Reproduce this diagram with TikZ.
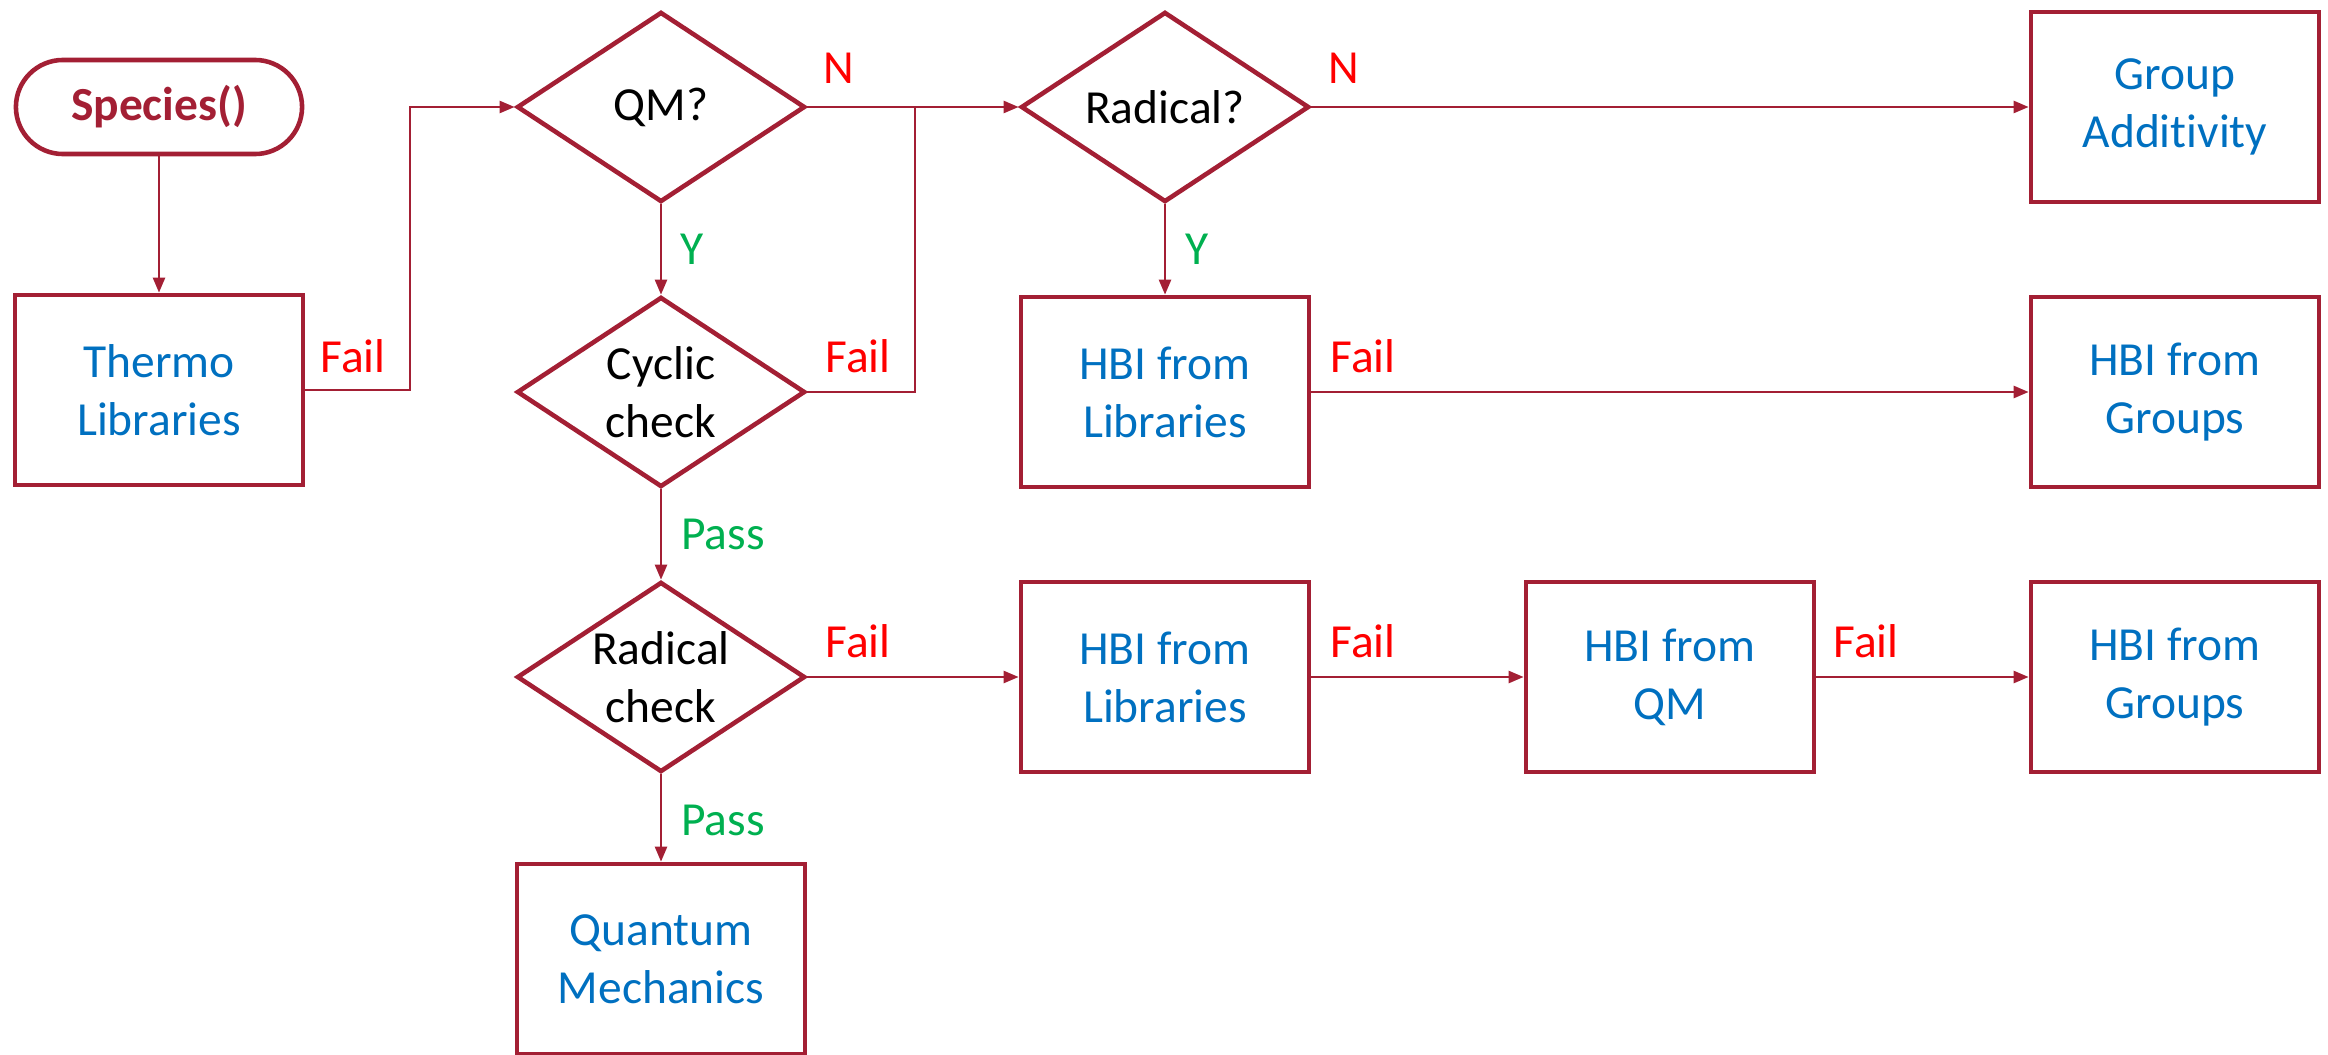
\documentclass[tikz,border=0pt]{standalone}
\usepackage{fontspec}
\setmainfont{Carlito}[Ligatures=NoCommon]
\usepackage{xcolor}
\usetikzlibrary{shapes.geometric,arrows.meta}

\definecolor{frame}{HTML}{A31F34}
\definecolor{txtblue}{HTML}{0070C0}
\definecolor{failred}{HTML}{FF0000}
\definecolor{passgreen}{HTML}{00B050}

\tikzset{
  proc/.style={draw=frame, line width=1.3pt, minimum width=2.88cm, minimum height=1.9cm,
    text=txtblue, align=center, font=\fontsize{13.5}{16.5}\selectfont},
  decide/.style={diamond, draw=frame, line width=1.3pt, minimum width=2.88cm, minimum height=1.9cm,
    inner sep=0pt, aspect=1.5, align=center, font=\fontsize{13.5}{16.5}\selectfont},
  term/.style={draw=frame, line width=1.3pt, rounded corners=0.47cm, minimum width=2.86cm,
    minimum height=0.94cm, text=frame, font=\fontsize{13.5}{16}\selectfont\bfseries},
  link/.style={draw=frame, line width=0.7pt, -{Triangle[length=0.15cm,width=0.12cm]}},
  fail/.style={text=failred, font=\fontsize{13.5}{16}\selectfont},
  pass/.style={text=passgreen, font=\fontsize{13.5}{16}\selectfont}
}

\begin{document}
\begin{tikzpicture}[x=0.01cm, y=-0.01cm]
  \useasboundingbox (0,0) rectangle (2328,1055);
  % left column
  \node[term] (species) at (159,107) {Species()};
  \node[proc] (thermo) at (159,390) {Thermo\\Libraries};
  % decisions
  \node[decide] (qm) at (661,107) {QM?};
  \node[decide] (cyclic) at (661,392) {Cyclic\\check};
  \node[decide] (radcheck) at (661,677) {Radical\\check};
  \node[proc] (quantum) at (661,959) {Quantum\\Mechanics};
  \node[decide] (radical) at (1165,107) {Radical?};
  % outcomes
  \node[proc] (hbilibA) at (1165,392) {HBI from\\Libraries};
  \node[proc] (gav) at (2175,107) {Group\\Additivity};
  \node[proc] (hbigrpA) at (2175,392) {HBI from\\Groups};
  \node[proc] (hbilibB) at (1165,677) {HBI from\\Libraries};
  \node[proc] (hbiqm) at (1670,677) {HBI from\\QM};
  \node[proc] (hbigrpB) at (2175,677) {HBI from\\Groups};

  \coordinate (joinA) at (410,390);
  \coordinate (joinB) at (915,392);
  \coordinate (joinC) at (915,107);

  \draw[link] (species) -- (thermo);
  \draw[link] (thermo.east) -- (joinA) |- (qm.west);
  \draw[link] (qm.east) -- (radical.west);
  \draw[frame, line width=0.7pt] (cyclic.east) -- (joinB) -- (joinC);
  \draw[link] (qm.south) -- (cyclic.north);
  \draw[link] (cyclic.south) -- (radcheck.north);
  \draw[link] (radcheck.south) -- (quantum.north);
  \draw[link] (radical.east) -- (gav.west);
  \draw[link] (radical.south) -- (hbilibA.north);
  \draw[link] (hbilibA.east) -- (hbigrpA.west);
  \draw[link] (radcheck.east) -- (hbilibB.west);
  \draw[link] (hbilibB.east) -- (hbiqm.west);
  \draw[link] (hbiqm.east) -- (hbigrpB.west);

  % branch labels
  \node[fail] (f1) at (353,356) {Fail};
  \node[fail] (n1) at (839,68) {N};
  \node[fail] (f2) at (858,356) {Fail};
  \node[pass] (y1) at (692,249) {Y};
  \node[pass] (p1) at (723,534) {Pass};
  \node[pass] (p2) at (723,820) {Pass};
  \node[fail] (n2) at (1344,68) {N};
  \node[pass] (y2) at (1197,249) {Y};
  \node[fail] (f3) at (1363,356) {Fail};
  \node[fail] (f4) at (858,641) {Fail};
  \node[fail] (f5) at (1363,641) {Fail};
  \node[fail] (f6) at (1866,641) {Fail};
\end{tikzpicture}
\end{document}
